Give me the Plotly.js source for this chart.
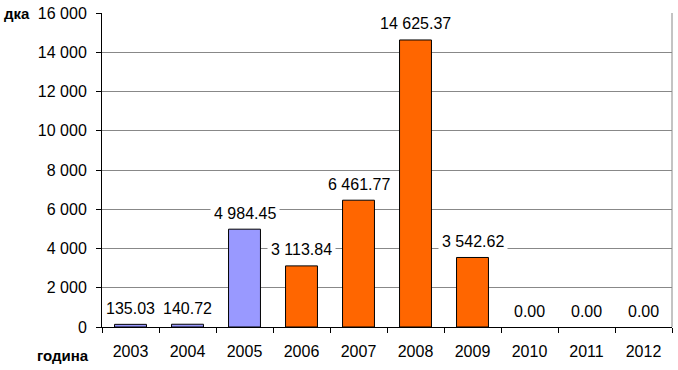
<!DOCTYPE html>
<html><head><meta charset="utf-8">
<script src="https://cdn.plot.ly/plotly-3.0.1.min.js"></script>
<style>html,body{margin:0;padding:0;background:#fff}#chart{width:678px;height:370px}</style>
</head><body><div id="chart"></div>
<script>
const years = ['2003','2004','2005','2006','2007','2008','2009','2010','2011','2012'];
const values = [135.03, 140.72, 4984.45, 3113.84, 6461.77, 14625.37, 3542.62, 0, 0, 0];
const barColors = ['#9999FF','#9999FF','#9999FF','#FF6600','#FF6600','#FF6600','#FF6600','#FF6600','#FF6600','#FF6600'];
const yTickVals = [0,2000,4000,6000,8000,10000,12000,14000,16000];

function fmt(v){
  const parts = v.toFixed(2).split('.');
  parts[0] = parts[0].replace(/\B(?=(\d{3})+(?!\d))/g, ' ');
  return parts.join('.');
}
const FONT = 'Liberation Sans, Arial, sans-serif';

const annotations = years.map((y,i)=>({
  x: i, y: values[i], xref:'x', yref:'y', text: fmt(values[i]),
  showarrow:false, yanchor:'middle', yshift:16, bgcolor:'#ffffff', borderpad:3,
  font:{family:FONT,size:16,color:'#000'}
}));
annotations.push({xref:'paper',yref:'paper',x:-0.175,y:1,xanchor:'left',yanchor:'middle',text:'<b>дка</b>',showarrow:false,font:{family:FONT,size:15,color:'#000'}});
annotations.push({xref:'paper',yref:'paper',x:-0.019,y:0,yshift:-28,xanchor:'right',yanchor:'middle',text:'<b>година</b>',showarrow:false,font:{family:FONT,size:15,color:'#000'}});

const trace = {
  type:'bar', x: years, y: values,
  marker:{color: barColors, line:{color:'#000', width: values.map(v => v > 0 ? 1 : 0)}},
  width: 0.56, hoverinfo:'none'
};
const layout = {
  width:678, height:370,
  margin:{l:102, r:6, t:13, b:43},
  paper_bgcolor:'#fff', plot_bgcolor:'#fff',
  separators: '. ',
  showlegend:false,
  font:{family:FONT, size:16, color:'#000'},
  xaxis:{type:'category', range:[-0.5,9.5], showline:true, linecolor:'#000', linewidth:1,
    ticks:'outside', tickson:'boundaries', ticklen:5, tickcolor:'#000', showgrid:false,
    ticklabelstandoff:10,
    tickfont:{family:FONT,size:16,color:'#000'}, fixedrange:true},
  yaxis:{range:[0,16000], tickvals: yTickVals, tickformat:',d', showline:true, linecolor:'#000', linewidth:1,
    ticks:'outside', ticklen:5, tickcolor:'#000', gridcolor:'#888', gridwidth:1, zeroline:false,
    ticklabelstandoff:6, tickfont:{family:FONT,size:16,color:'#000'}, fixedrange:true},
  shapes:[{type:'line',xref:'paper',yref:'paper',x0:1,x1:1,y0:0,y1:1,line:{color:'#888',width:1}}],
  annotations: annotations
};
Plotly.newPlot('chart',[trace],layout,{staticPlot:true});
</script></body></html>
